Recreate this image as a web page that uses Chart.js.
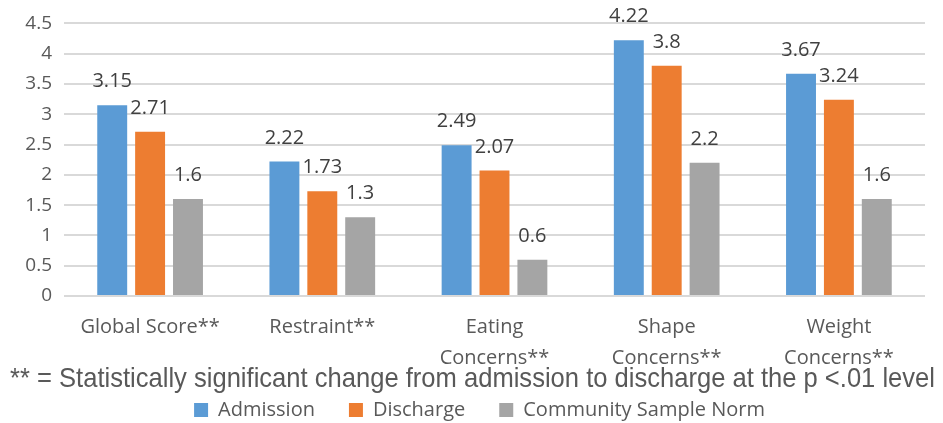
<!DOCTYPE html>
<html>
<head>
<meta charset="utf-8">
<script src="https://cdn.jsdelivr.net/npm/chart.js@4"></script>
<style>
  html, body { margin: 0; padding: 0; background: #fff; }
  #wrap { width: 943px; height: 423px; }
</style>
</head>
<body>
<div id="wrap"><canvas id="chart"></canvas></div>
<script>
const categories = ['Global Score**', 'Restraint**', ['Eating', 'Concerns**'], ['Shape', 'Concerns**'], ['Weight', 'Concerns**']];
const admission = [3.15, 2.22, 2.49, 4.22, 3.67];
const discharge = [2.71, 1.73, 2.07, 3.8, 3.24];
const communityNorm = [1.6, 1.3, 0.6, 2.2, 1.6];
const seriesNames = ['Admission', 'Discharge', 'Community Sample Norm'];
const footnote = '** = Statistically significant change from admission to discharge at the p <.01 level';

const TEXT = '#595959';
const FONT = "'Open Sans', sans-serif";

// draw the value above each bar
const barLabels = {
    id: 'barLabels',
    afterDatasetsDraw(chart) {
        const ctx = chart.ctx;
        ctx.save();
        ctx.font = '20px ' + FONT;
        ctx.fillStyle = '#404040';
        ctx.textAlign = 'center';
        ctx.textBaseline = 'alphabetic';
        chart.data.datasets.forEach((ds, i) => {
            const meta = chart.getDatasetMeta(i);
            meta.data.forEach((bar, j) => {
                ctx.fillText(String(ds.data[j]), bar.x, bar.y - 18);
            });
        });
        ctx.restore();
    }
};

// nudge the footnote and legend a little right, like the original
const nudgeBoxes = {
    id: 'nudgeBoxes',
    afterLayout(chart) {
        chart.legend.left += 17;
        chart.legend.right += 17;
        chart.titleBlock.left += 10;
        chart.titleBlock.right += 10;
    }
};

new Chart(document.getElementById('chart'), {
    type: 'bar',
    data: {
        labels: categories,
        datasets: [
            { label: seriesNames[0], data: admission, backgroundColor: '#5B9BD5' },
            { label: seriesNames[1], data: discharge, backgroundColor: '#ED7D31' },
            { label: seriesNames[2], data: communityNorm, backgroundColor: '#A5A5A5' }
        ]
    },
    options: {
        responsive: true,
        maintainAspectRatio: false,
        animation: false,
        datasets: {
            bar: { categoryPercentage: 0.66, barPercentage: 0.79 }
        },
        layout: { padding: { left: 0, right: 18, top: 10, bottom: -7 } },
        plugins: {
            tooltip: { enabled: false },
            title: {
                display: true,
                position: 'bottom',
                text: footnote,
                color: TEXT,
                font: { family: "'Liberation Sans', Arial, sans-serif", size: 28, lineHeight: 1.2, weight: 'normal' },
                padding: { top: -4, bottom: -29.6 }
            },
            legend: {
                position: 'bottom',
                weight: 3000,
                labels: {
                    color: TEXT,
                    font: { family: FONT, size: 20 },
                    boxWidth: 14,
                    boxHeight: 14,
                    padding: 34
                }
            }
        },
        scales: {
            x: {
                afterFit(scale) { scale.height = 70; },
                grid: { display: false, drawTicks: false },
                border: { display: false },
                ticks: {
                    color: TEXT,
                    font: { family: FONT, size: 20, lineHeight: 1.55 },
                    maxRotation: 0,
                    autoSkip: false,
                    padding: 16
                }
            },
            y: {
                min: 0,
                max: 4.5,
                afterFit(scale) { scale.width = 64; },
                grid: { color: '#D9D9D9', lineWidth: 2, drawTicks: false },
                border: { display: false },
                ticks: {
                    stepSize: 0.5,
                    color: TEXT,
                    font: { family: FONT, size: 19 },
                    padding: 12,
                    callback: (value) => String(value)
                }
            }
        }
    },
    plugins: [barLabels, nudgeBoxes]
});
</script>
</body>
</html>
